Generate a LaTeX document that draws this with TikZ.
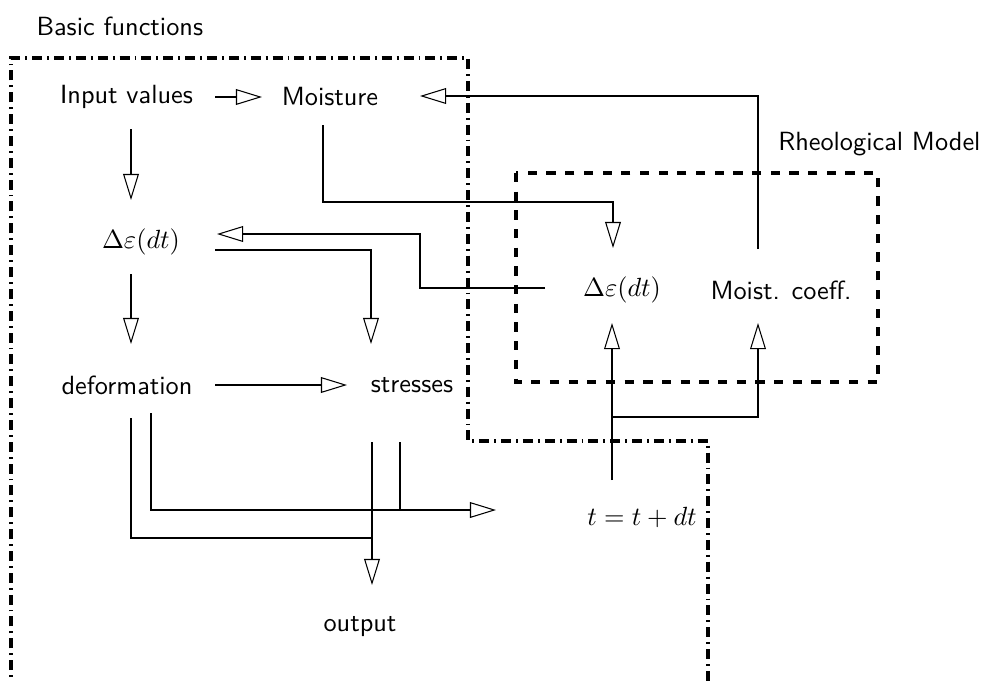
\documentclass[tikz,border=0pt]{standalone}
\usetikzlibrary{arrows.meta}
\begin{document}
\begin{tikzpicture}[x=0.38pt,y=-0.38pt,
  lbl/.style={font=\sffamily, inner sep=0pt},
  conn/.style={line width=0.4pt},
  arr/.style={conn,-{Triangle[open,length=9.9pt,width=6pt]}},
  frameA/.style={line width=1.2pt, dash pattern=on 3.8pt off 1.9pt on 0.7pt off 1.9pt},
  frameB/.style={line width=1.2pt, dash pattern=on 3.5pt off 3.6pt}]
\useasboundingbox (0,0) rectangle (986,680);
% frames
\draw[frameA] (11,692) -- (11,58) -- (468,58) -- (468,441) -- (708,441) -- (708,692);
\draw[frameB] (516,173) rectangle (878,382);
% labels
\node[lbl,anchor=west] (basic) at (36,26) {Basic functions};
\node[lbl,anchor=east] (rheo) at (981,144) {Rheological Model};
\node[lbl] (input) at (126.5,97) {Input values};
\node[lbl] (moist) at (330,97) {Moisture};
\node[lbl] (de1) at (141,242) {$\Delta\varepsilon(dt)$};
\node[lbl] (deform) at (127,385) {deformation};
\node[lbl] (stress) at (412,385) {stresses};
\node[lbl] (output) at (360,627) {output};
\node[lbl] (de2) at (622,290) {$\Delta\varepsilon(dt)$};
\node[lbl] (mc) at (781,290) {Moist. coeff.};
\node[lbl] (tdt) at (642,517) {$t=t+dt$};
% coordinates
\coordinate (a1) at (215,97); \coordinate (a2) at (262,97);
\coordinate (b1) at (758,249); \coordinate (b2) at (420,96);
\coordinate (c1) at (323,125); \coordinate (c2) at (613,248);
\coordinate (d1) at (545,288); \coordinate (d2) at (217,234);
\coordinate (e1) at (215,250); \coordinate (e2) at (371,344);
\coordinate (f1) at (131,129); \coordinate (f2) at (131,200);
\coordinate (g1) at (131,274); \coordinate (g2) at (131,344);
\coordinate (h1) at (215,385); \coordinate (h2) at (347,385);
\coordinate (i1) at (131,418); \coordinate (i2) at (372,538);
\coordinate (j1) at (151,413); \coordinate (j2) at (496,510);
\coordinate (k1) at (372,442); \coordinate (k2) at (372,585);
\coordinate (l1) at (400,442); \coordinate (l2) at (400,510);
\coordinate (m1) at (612,480); \coordinate (m2) at (612,323);
\coordinate (n1) at (612,417); \coordinate (n2) at (758,323);
% connectors
\draw[arr] (a1) -- (a2);
\draw[arr] (b1) |- (b2);
\draw[arr] (c1) |- (323,202) -| (c2);
\draw[arr] (d1) -| (420,234) -- (d2);
\draw[arr] (e1) -| (e2);
\draw[arr] (f1) -- (f2);
\draw[arr] (g1) -- (g2);
\draw[arr] (h1) -- (h2);
\draw[conn] (i1) |- (i2);
\draw[arr] (j1) |- (j2);
\draw[arr] (k1) -- (k2);
\draw[conn] (l1) -- (l2);
\draw[arr] (m1) -- (m2);
\draw[arr] (n1) -| (n2);
\end{tikzpicture}
\end{document}
